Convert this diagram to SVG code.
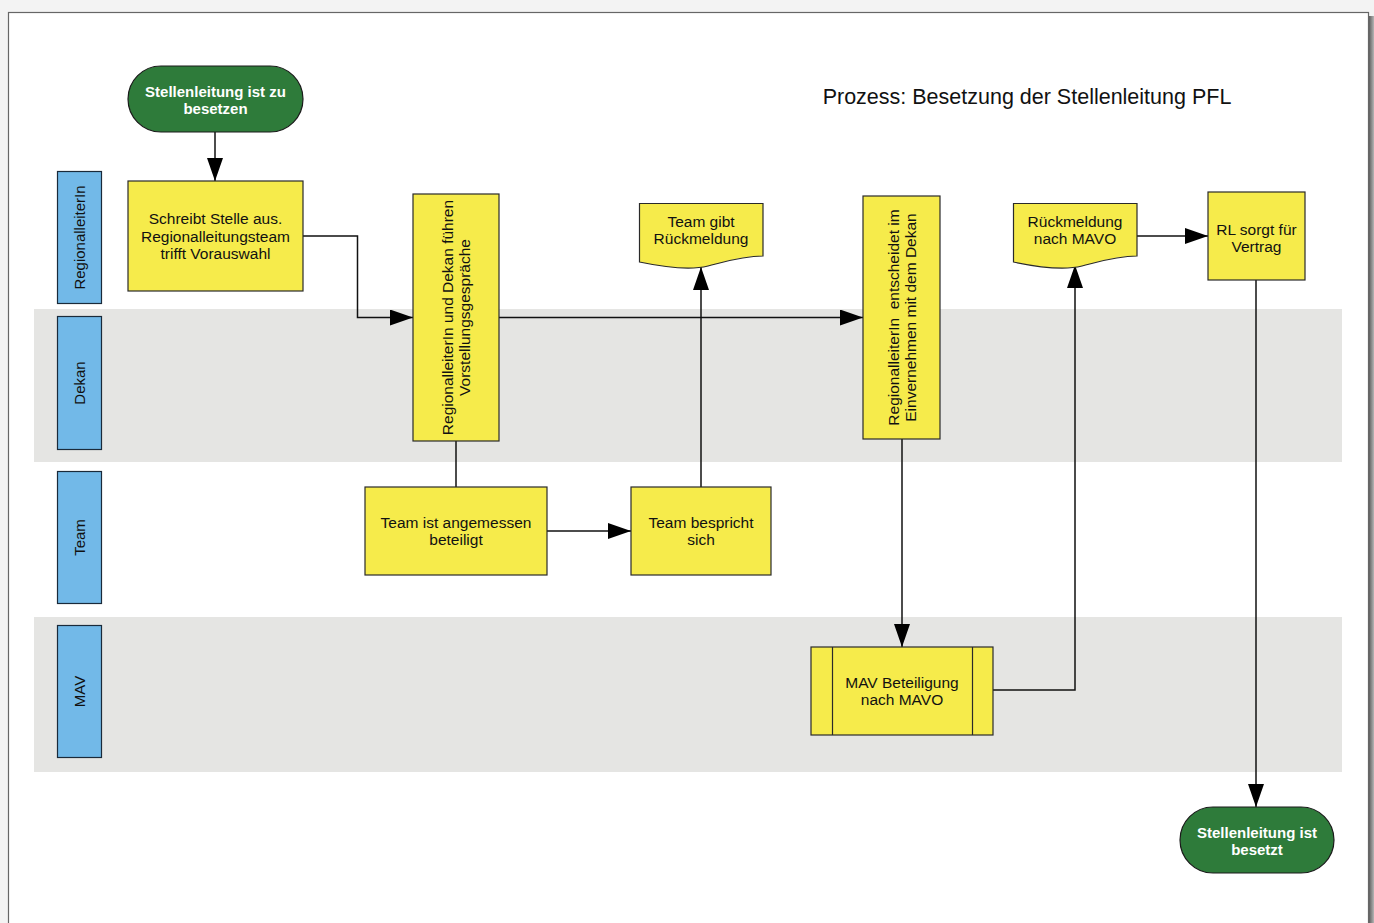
<svg xmlns="http://www.w3.org/2000/svg" width="1374" height="923" viewBox="0 0 1374 923">
<style>
.lane{fill:#e5e5e3}
.lbl{fill:#72b9e8;stroke:#1a2a3a;stroke-width:1.2}
.box{fill:#f6eb4b;stroke:#2a2a2a;stroke-width:1.2}
.term{fill:#2e7b3a;stroke:#1a1a1a;stroke-width:1.2}
.t{font-family:"Liberation Sans",Arial,sans-serif;font-size:15.5px;fill:#111;text-anchor:middle}
.tl{font-family:"Liberation Sans",Arial,sans-serif;font-size:15px;fill:#111;text-anchor:middle}
.tw{font-family:"Liberation Sans",Arial,sans-serif;font-size:15px;font-weight:bold;fill:#fff;text-anchor:middle}
.c{fill:none;stroke:#111;stroke-width:1.5}
</style>
<defs>
<marker id="arr" viewBox="0 0 23 16" refX="23" refY="8" markerWidth="23" markerHeight="16" markerUnits="userSpaceOnUse" orient="auto">
<path d="M0,0 L23,8 L0,16 Z" fill="#000"/>
</marker>
<linearGradient id="sh" x1="0" y1="0" x2="1" y2="0">
<stop offset="0" stop-color="#5e5e5e"/>
<stop offset="1" stop-color="#b5b5b5"/>
</linearGradient>
</defs>
<rect x="0" y="0" width="1374" height="923" fill="#f3f3f3"/>
<rect x="1369" y="16" width="5" height="907" fill="url(#sh)"/>
<rect x="8.5" y="12.5" width="1360" height="920" fill="#fff" stroke="#666" stroke-width="1.2"/>

<g id="lanes">
<rect class="lane" x="34" y="309" width="1308" height="153"/>
<rect class="lane" x="34" y="617" width="1308" height="155"/>
</g>

<g id="lane-regionalleiterin">
<rect class="lbl" x="57.5" y="171.5" width="44" height="132"/>
<text class="tl" transform="translate(79.5,237.5) rotate(-90)" y="5.5">RegionalleiterIn</text>
</g>
<g id="lane-dekan">
<rect class="lbl" x="57.5" y="316.5" width="44" height="133"/>
<text class="tl" transform="translate(79.5,383) rotate(-90)" y="5.5">Dekan</text>
</g>
<g id="lane-team">
<rect class="lbl" x="57.5" y="471.5" width="44" height="132"/>
<text class="tl" transform="translate(79.5,537.5) rotate(-90)" y="5.5">Team</text>
</g>
<g id="lane-mav">
<rect class="lbl" x="57.5" y="625.5" width="44" height="132"/>
<text class="tl" transform="translate(79.5,691.5) rotate(-90)" y="5.5">MAV</text>
</g>

<g id="title">
<text x="1027" y="104" style="font-family:'Liberation Sans',Arial,sans-serif;font-size:21.5px;fill:#111;text-anchor:middle">Prozess: Besetzung der Stellenleitung PFL</text>
</g>

<g id="connectors">
<path class="c" d="M215,132 V181" marker-end="url(#arr)"/>
<path class="c" d="M303,236 H357.5 V317.5 H413" marker-end="url(#arr)"/>
<path class="c" d="M499,317.5 H863" marker-end="url(#arr)"/>
<path class="c" d="M456,441 V487"/>
<path class="c" d="M547,531 H631" marker-end="url(#arr)"/>
<path class="c" d="M701,487 V267" marker-end="url(#arr)"/>
<path class="c" d="M902,439 V647" marker-end="url(#arr)"/>
<path class="c" d="M993,690 H1075 V265" marker-end="url(#arr)"/>
<path class="c" d="M1137,236 H1208" marker-end="url(#arr)"/>
<path class="c" d="M1256,280 V807" marker-end="url(#arr)"/>
</g>

<g id="start">
<rect class="term" x="128" y="66" width="175" height="66" rx="33" ry="33"/>
<text class="tw" x="215.5" y="97">Stellenleitung ist zu</text>
<text class="tw" x="215.5" y="113.5">besetzen</text>
</g>

<g id="schreibt-stelle">
<rect class="box" x="128" y="181" width="175" height="110"/>
<text class="t" x="215.5" y="224">Schreibt Stelle aus.</text>
<text class="t" x="215.5" y="241.5">Regionalleitungsteam</text>
<text class="t" x="215.5" y="259">trifft Vorauswahl</text>
</g>

<g id="vorstellungsgespraeche">
<rect class="box" x="413" y="194" width="86" height="247"/>
<g transform="translate(456,317.5) rotate(-90)">
<text class="t" x="0" y="-3">RegionalleiterIn und Dekan führen</text>
<text class="t" x="0" y="14">Vorstellungsgespräche</text>
</g>
</g>

<g id="team-beteiligt">
<rect class="box" x="365" y="487" width="182" height="88"/>
<text class="t" x="456" y="528">Team ist angemessen</text>
<text class="t" x="456" y="545">beteiligt</text>
</g>

<g id="team-bespricht">
<rect class="box" x="631" y="487" width="140" height="88"/>
<text class="t" x="701" y="528">Team bespricht</text>
<text class="t" x="701" y="545">sich</text>
</g>

<g id="team-rueckmeldung">
<path class="box" d="M639.5,203.5 H763 V256 C742,256 724,262 708,266 C692,270 668,268 639.5,262 Z"/>
<text class="t" x="701" y="227">Team gibt</text>
<text class="t" x="701" y="244">Rückmeldung</text>
</g>

<g id="entscheidet">
<rect class="box" x="863" y="196" width="77" height="243"/>
<g transform="translate(901.5,317.5) rotate(-90)">
<text class="t" x="0" y="-3" xml:space="preserve">RegionalleiterIn  entscheidet im</text>
<text class="t" x="0" y="14">Einvernehmen mit dem Dekan</text>
</g>
</g>

<g id="mav-beteiligung">
<rect class="box" x="811" y="647" width="182" height="88"/>
<line x1="832.5" y1="647" x2="832.5" y2="735" stroke="#2a2a2a" stroke-width="1.2"/>
<line x1="972.5" y1="647" x2="972.5" y2="735" stroke="#2a2a2a" stroke-width="1.2"/>
<text class="t" x="902" y="688">MAV Beteiligung</text>
<text class="t" x="902" y="705">nach MAVO</text>
</g>

<g id="rueckmeldung-mavo">
<path class="box" d="M1013.5,203.5 H1137 V256 C1116,256 1098,262 1082,266 C1066,270 1042,268 1013.5,262 Z"/>
<text class="t" x="1075" y="227">Rückmeldung</text>
<text class="t" x="1075" y="244">nach MAVO</text>
</g>

<g id="rl-vertrag">
<rect class="box" x="1208" y="192" width="97" height="88"/>
<text class="t" x="1256.5" y="235">RL sorgt für</text>
<text class="t" x="1256.5" y="252">Vertrag</text>
</g>

<g id="end">
<rect class="term" x="1180" y="807" width="154" height="66" rx="33" ry="33"/>
<text class="tw" x="1257" y="838">Stellenleitung ist</text>
<text class="tw" x="1257" y="855">besetzt</text>
</g>
</svg>
